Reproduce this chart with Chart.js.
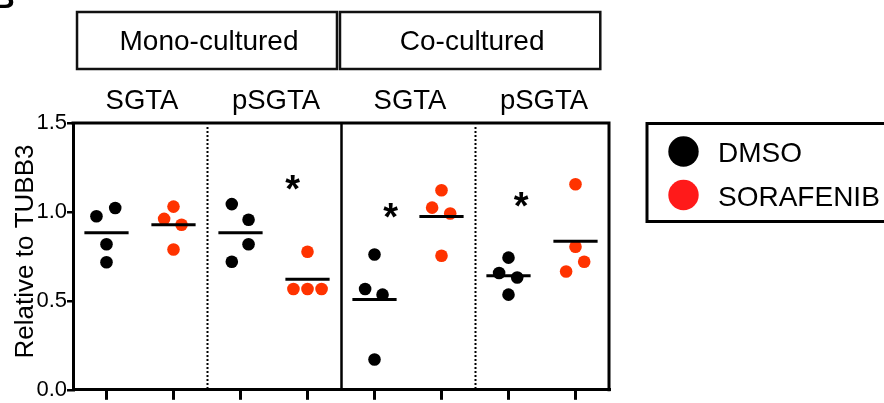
<!DOCTYPE html>
<html><head><meta charset="utf-8">
<script src="https://cdn.jsdelivr.net/npm/chart.js@4/dist/chart.umd.min.js"></script>
<style>html,body{margin:0;padding:0;background:#fff;overflow:hidden}canvas{display:block}</style>
</head><body>
<canvas id="c" width="884" height="403"></canvas>
<script>
// ---- data ----
const cultures = ['Mono-cultured', 'Co-cultured'];
const targets = ['SGTA', 'pSGTA', 'SGTA', 'pSGTA'];
const seriesNames = ['DMSO', 'SORAFENIB'];
const yTickValues = [0, 0.5, 1.0, 1.5];
const yTitle = 'Relative to TUBB3';

// four replicate values per group (groups follow `targets`)
const dmsoValues = [
  [0.976, 1.022, 0.818, 0.717],
  [1.044, 0.956, 0.818, 0.720],
  [0.761, 0.567, 0.535, 0.170],
  [0.743, 0.657, 0.631, 0.535]
];
const sorafenibValues = [
  [1.030, 0.961, 0.928, 0.789],
  [0.776, 0.567, 0.567, 0.567],
  [1.122, 1.024, 0.991, 0.754],
  [1.156, 0.804, 0.720, 0.665]
];
const dmsoMeans = [0.883, 0.883, 0.507, 0.641];
const sorafenibMeans = [0.928, 0.622, 0.974, 0.835];

// horizontal scatter of the dots inside each column (axis units)
const dmsoJitter = [
  [-0.15, 0.13, 0, 0],
  [-0.13, 0.12, 0.12, -0.13],
  [0, -0.14, 0.12, 0],
  [0, -0.14, 0.13, 0]
];
const sorafenibJitter = [
  [0, -0.14, 0.12, 0],
  [0, -0.21, 0, 0.21],
  [0, -0.14, 0.13, 0],
  [0, 0, 0.13, -0.14]
];
// significance asterisks (axis units)
const starX = [3.28, 4.74, 6.69];
const starY = [1.18, 1.02, 1.083];

// ---- styling ----
const FONT = "'Liberation Sans', Arial, Helvetica, sans-serif";
const BLACK = '#000000';
const RED = '#ff3300';
const LEGEND_RED = '#ff1a1a';

function dotPoints(values, jitter, series) {
  const pts = [];
  values.forEach((grp, g) => {
    const col = 2 * g + series;
    grp.forEach((v, i) => pts.push({x: col + 0.5 + jitter[g][i], y: v}));
  });
  return pts;
}
function meanSegments() {
  const pts = [];
  for (let g = 0; g < targets.length; g++) {
    [[dmsoMeans[g], 0], [sorafenibMeans[g], 1]].forEach(([m, s]) => {
      const c = 2 * g + s + 0.5;
      pts.push({x: c - 0.33, y: m}, {x: c + 0.33, y: m}, {x: c + 0.4, y: null});
    });
  }
  return pts;
}

const decorPlugin = {
  id: 'decor',
  beforeDatasetsDraw(chart) {
    const {ctx, chartArea: a, scales: {x}} = chart;
    ctx.save();
    // group dividers
    ctx.strokeStyle = BLACK;
    [2, 6].forEach(v => {
      const px = Math.round(x.getPixelForValue(v)) + 0.5;
      ctx.lineWidth = 2;
      ctx.setLineDash([2, 2]);
      ctx.beginPath(); ctx.moveTo(px, a.top + 4); ctx.lineTo(px, a.bottom); ctx.stroke();
    });
    ctx.setLineDash([]);
    const mid = Math.round(x.getPixelForValue(4)) + 0.5;
    ctx.lineWidth = 2.5;
    ctx.beginPath(); ctx.moveTo(mid, a.top); ctx.lineTo(mid, a.bottom); ctx.stroke();
    // frame (top & right)
    ctx.lineWidth = 3;
    ctx.beginPath();
    ctx.moveTo(a.left - 1.5, a.top); ctx.lineTo(a.right, a.top); ctx.lineTo(a.right, a.bottom + 1.5);
    ctx.stroke();
    ctx.restore();
  },
  afterDraw(chart) {
    const {ctx, chartArea: a, scales: {x, y}} = chart;
    ctx.save();
    // culture boxes
    const boxSpans = [[0.06, 3.94], [3.985, 7.87]];
    ctx.strokeStyle = '#111';
    ctx.lineWidth = 2.5;
    ctx.fillStyle = BLACK;
    ctx.font = `28px ${FONT}`;
    ctx.textAlign = 'center';
    ctx.textBaseline = 'alphabetic';
    cultures.forEach((name, i) => {
      const l = x.getPixelForValue(boxSpans[i][0]);
      const r = x.getPixelForValue(boxSpans[i][1]);
      ctx.strokeRect(l, 12, r - l, 57);
      ctx.fillText(name, (l + r) / 2 + 2, 49.5);
    });
    // target labels
    ctx.font = `27.5px ${FONT}`;
    targets.forEach((t, k) => {
      ctx.fillText(t, x.getPixelForValue(2 * k + 1) + 2, 108.5);
    });
    // y-axis title
    ctx.save();
    ctx.font = `26px ${FONT}`;
    ctx.translate(33, 251.5);
    ctx.rotate(-Math.PI / 2);
    ctx.fillText(yTitle, 0, 0);
    ctx.restore();
    // asterisks
    ctx.font = `bold 38px ${FONT}`;
    starX.forEach((sx, i) => {
      ctx.fillText('*', x.getPixelForValue(sx), y.getPixelForValue(starY[i]) + 22);
    });
    // legend
    ctx.lineWidth = 3;
    ctx.strokeStyle = BLACK;
    ctx.strokeRect(647, 123.5, 300, 98);
    const legendColors = [BLACK, LEGEND_RED];
    ctx.font = `28px ${FONT}`;
    ctx.textAlign = 'left';
    seriesNames.forEach((n, i) => {
      const cy = 151.5 + i * 43.5;
      ctx.fillStyle = legendColors[i];
      ctx.beginPath(); ctx.arc(683.5, cy, 15.2, 0, Math.PI * 2); ctx.fill();
      ctx.fillStyle = BLACK;
      ctx.fillText(n, 718, cy + 10.5);
    });
    // panel letter (cropped at the top-left corner)
    ctx.font = `bold 30px ${FONT}`;
    ctx.fillText('B', -7, 8);
    ctx.restore();
  }
};

new Chart(document.getElementById('c'), {
  type: 'scatter',
  data: {
    datasets: [
      {label: 'mean', type: 'line', data: meanSegments(), borderColor: BLACK, borderWidth: 3,
       pointRadius: 0, spanGaps: false, borderCapStyle: 'butt', order: 0},
      {label: seriesNames[0], data: dotPoints(dmsoValues, dmsoJitter, 0), backgroundColor: BLACK,
       borderWidth: 0, pointRadius: 6.3, order: 1},
      {label: seriesNames[1], data: dotPoints(sorafenibValues, sorafenibJitter, 1), backgroundColor: RED,
       borderWidth: 0, pointRadius: 6.3, order: 1}
    ]
  },
  options: {
    responsive: false,
    devicePixelRatio: 1,
    animation: false,
    layout: {padding: {top: 123, right: 275, bottom: 0, left: 0}},
    plugins: {legend: {display: false}, tooltip: {enabled: false}},
    scales: {
      x: {
        type: 'linear', min: 0, max: 8,
        afterBuildTicks: s => { s.ticks = [0, 1, 2, 3, 4, 5, 6, 7].map(i => ({value: i + 0.5})); },
        ticks: {display: false},
        grid: {display: true, drawOnChartArea: false, drawTicks: true, tickLength: 10, color: BLACK, lineWidth: 3},
        border: {display: true, color: BLACK, width: 3}
      },
      y: {
        type: 'linear', min: 0, max: 1.5,
        afterBuildTicks: s => { s.ticks = yTickValues.map(v => ({value: v})); },
        afterFit: s => { s.width = 73; },
        ticks: {color: BLACK, padding: 0, font: {family: FONT, size: 22}, callback: v => v.toFixed(1)},
        grid: {display: true, drawOnChartArea: false, drawTicks: true, tickLength: 6, color: BLACK, lineWidth: 2.5},
        border: {display: true, color: BLACK, width: 3},
        title: {display: false}
      }
    }
  },
  plugins: [decorPlugin]
});
</script>
</body></html>
